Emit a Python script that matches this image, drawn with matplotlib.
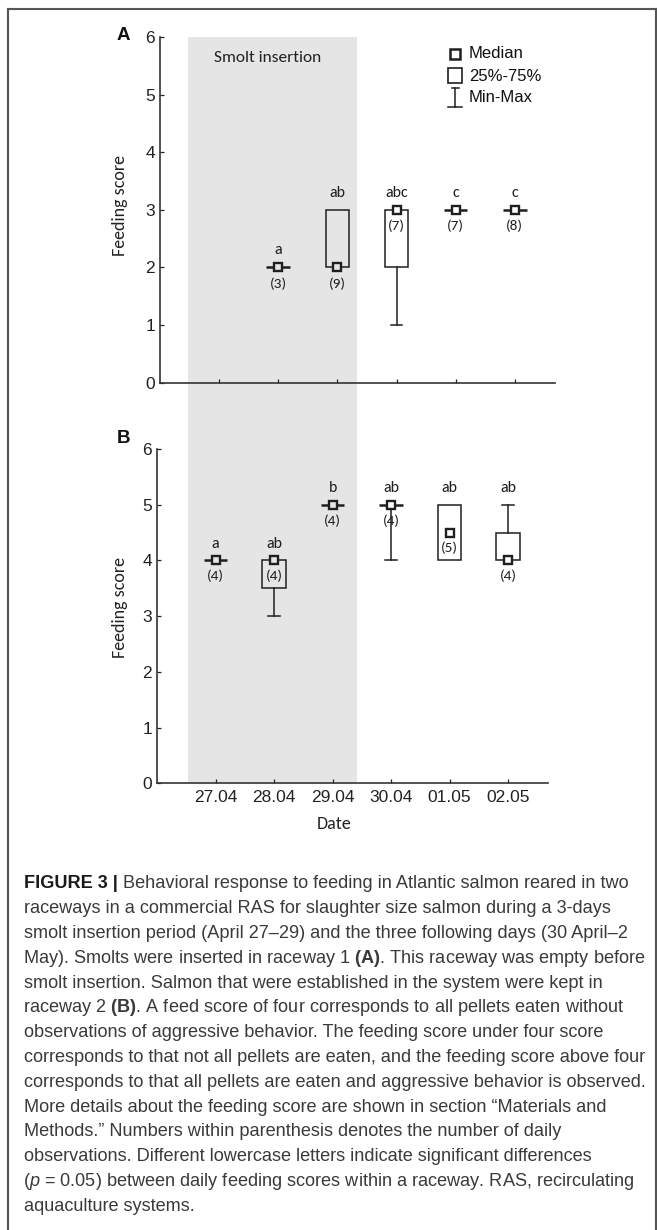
import numpy as np
import matplotlib
matplotlib.use('Agg')
import matplotlib.pyplot as plt
from matplotlib import font_manager as fm
from matplotlib.patches import Rectangle
from matplotlib.lines import Line2D

# ------------------------------------------------------------
# Fonts
# ------------------------------------------------------------
_names = {f.name for f in fm.fontManager.ttflist}


def pick(*cands):
    for c in cands:
        if c in _names:
            return c
    return 'DejaVu Sans'


ARIAL = pick('Liberation Sans', 'Arimo', 'DejaVu Sans')
CALIBRI = pick('Carlito', 'Lato', 'Open Sans')

plt.rcParams['font.family'] = [ARIAL, 'DejaVu Sans']
plt.rcParams['mathtext.fontset'] = 'custom'
plt.rcParams['mathtext.rm'] = ARIAL
plt.rcParams['mathtext.it'] = ARIAL + ':italic'
plt.rcParams['mathtext.bf'] = ARIAL + ':bold'

# ------------------------------------------------------------
# Data
# ------------------------------------------------------------
dates = ['27.04', '28.04', '29.04', '30.04', '01.05', '02.05']

# Raceway 1 (A) - no observations on 27.04
a_min = [np.nan, 2, 2, 1, 3, 3]
a_q1 = [np.nan, 2, 2, 2, 3, 3]
a_med = [np.nan, 2, 2, 3, 3, 3]
a_q3 = [np.nan, 2, 3, 3, 3, 3]
a_max = [np.nan, 2, 3, 3, 3, 3]
a_n = [None, 3, 9, 7, 7, 8]
a_letters = [None, 'a', 'ab', 'abc', 'c', 'c']

# Raceway 2 (B)
b_min = [4, 3, 5, 4, 4, 4]
b_q1 = [4, 3.5, 5, 5, 4, 4]
b_med = [4, 4, 5, 5, 4.5, 4]
b_q3 = [4, 4, 5, 5, 5, 4.5]
b_max = [4, 4, 5, 5, 5, 5]
b_n = [4, 4, 4, 4, 5, 4]
b_letters = ['a', 'ab', 'b', 'ab', 'ab', 'ab']

# smolt insertion period (x in day units)
SHADE_START, SHADE_END = 0.53, 3.41

caption = [
    "Behavioral response to feeding in Atlantic salmon reared in two",
    "raceways in a commercial RAS for slaughter size salmon during a 3-days",
    "smolt insertion period (April 27\u201329) and the three following days (30 April\u20132",
    r"May). Smolts were inserted in raceway 1 $\mathbf{(A)}$. This raceway was empty before",
    "smolt insertion. Salmon that were established in the system were kept in",
    r"raceway 2 $\mathbf{(B)}$. A feed score of four corresponds to all pellets eaten without",
    "observations of aggressive behavior. The feeding score under four score",
    "corresponds to that not all pellets are eaten, and the feeding score above four",
    "corresponds to that all pellets are eaten and aggressive behavior is observed.",
    "More details about the feeding score are shown in section \u201cMaterials and",
    "Methods.\u201d Numbers within parenthesis denotes the number of daily",
    "observations. Different lowercase letters indicate significant differences",
    r"($\mathit{p}$ = 0.05) between daily feeding scores within a raceway. RAS, recirculating",
    "aquaculture systems.",
]

# ------------------------------------------------------------
# Layout helpers (pixel boxes -> figure fractions)
# ------------------------------------------------------------
W, H = 657, 1230
fig = plt.figure(figsize=(W / 100, H / 100), dpi=100)


def px_box(left, top, right, bottom):
    return [left / W, 1 - bottom / H, (right - left) / W, (bottom - top) / H]


ax_a = fig.add_axes(px_box(160, 37, 555, 382.7))
ax_b = fig.add_axes(px_box(157, 449, 548, 783.3))
ax_a.set_zorder(2)
ax_a.patch.set_alpha(0)

LINE = '#1f1f1f'
SHADE = '#e5e5e5'
BOX_HALF = 0.2
CAP_HALF = 0.1
x = np.arange(1, len(dates) + 1)


def draw_panel(ax, mins, q1, med, q3, maxs, ns, letters):
    for i, xi in enumerate(x):
        if np.isnan(med[i]):
            continue
        if maxs[i] > q3[i]:
            ax.plot([xi, xi], [q3[i], maxs[i]], color=LINE, lw=1.1)
            ax.plot([xi - CAP_HALF, xi + CAP_HALF], [maxs[i]] * 2, color=LINE, lw=1.1)
        if mins[i] < q1[i]:
            ax.plot([xi, xi], [mins[i], q1[i]], color=LINE, lw=1.1)
            ax.plot([xi - CAP_HALF, xi + CAP_HALF], [mins[i]] * 2, color=LINE, lw=1.1)
        h = q3[i] - q1[i]
        ax.add_patch(Rectangle((xi - BOX_HALF, q1[i]), 2 * BOX_HALF, h,
                               fill=False, ec=LINE, lw=1.1 if h > 0 else 1.8,
                               zorder=3))
        inside = SHADE_START <= xi <= SHADE_END
        ax.plot(xi, med[i], marker='s', ms=6, mew=1.7, mec=LINE,
                mfc=SHADE if inside else 'white', zorder=4)
        ax.text(xi, maxs[i] + 0.3, letters[i], ha='center', va='center',
                fontsize=11.5, family=CALIBRI, color=LINE)
        ax.text(xi, med[i] - 0.28, f'({ns[i]})', ha='center', va='center',
                fontsize=11, family=CALIBRI, color=LINE)


draw_panel(ax_a, a_min, a_q1, a_med, a_q3, a_max, a_n, a_letters)
draw_panel(ax_b, b_min, b_q1, b_med, b_q3, b_max, b_n, b_letters)

for ax in (ax_a, ax_b):
    ax.set_xlim(0, 6.68)
    ax.set_ylim(0, 6)
    ax.set_xticks(x)
    ax.set_yticks(range(0, 7))
    for s in ('top', 'right'):
        ax.spines[s].set_visible(False)
    for s in ('left', 'bottom'):
        ax.spines[s].set_color('#333333')
        ax.spines[s].set_linewidth(1.2)
    ax.tick_params(direction='in', length=3, width=0.9, colors='#222222',
                   labelsize=12.5)
    ax.tick_params(axis='y', pad=3.6)
    ax.set_ylabel('Feeding score', family=CALIBRI, fontsize=13, color='#222222')

ax_a.tick_params(axis='x', labelbottom=False)
ax_b.set_xticklabels(dates)
ax_b.tick_params(axis='x', pad=4.5)
ax_b.set_xlabel('Date', family=CALIBRI, fontsize=13, color='#222222')
ax_b.xaxis.set_label_coords(0.453, -0.098)
ax_a.yaxis.set_label_coords(-0.081, 0.512)
ax_b.yaxis.set_label_coords(-0.074, 0.525)

# smolt insertion shading, spanning both panels
pa, pb = ax_a.get_position(), ax_b.get_position()
ymax_b = (pa.y1 - pb.y0) / pb.height
ax_b.axvspan(SHADE_START, SHADE_END, ymin=0.004, ymax=ymax_b, color=SHADE,
             lw=0, zorder=0, clip_on=False)
ax_a.text(0.273, 0.938, 'Smolt insertion', transform=ax_a.transAxes,
          ha='center', va='center', family=CALIBRI, fontsize=12.5, color='#222222')

# legend in panel A
ta = ax_a.transAxes
ax_a.plot(0.747, 0.951, marker='s', ms=7.5, mew=1.8, mec=LINE, mfc='white',
          transform=ta, clip_on=False)
ax_a.add_patch(Rectangle((0.747 - 0.0177, 0.888 - 0.0217), 0.0354, 0.0434,
                         transform=ta, fill=False, ec=LINE, lw=1.2, clip_on=False))
ax_a.plot([0.747, 0.747], [0.7984, 0.8516], color=LINE, lw=1.1, transform=ta)
ax_a.plot([0.738, 0.756], [0.8516, 0.8516], color=LINE, lw=1.1, transform=ta)
ax_a.plot([0.729, 0.765], [0.7984, 0.7984], color=LINE, lw=1.1, transform=ta)
for ty, lab in zip([0.953, 0.887, 0.824], ['Median', '25%-75%', 'Min-Max']):
    ax_a.text(0.782, ty, lab, transform=ta, ha='left', va='center',
              fontsize=12, color='#111111')

# panel letters
fig.text(123 / W, 1 - 35 / H, 'A', ha='center', va='center', weight='bold',
         fontsize=13.5, color='#111111')
fig.text(123 / W, 1 - 438.3 / H, 'B', ha='center', va='center', weight='bold',
         fontsize=13.5, color='#111111')

# ------------------------------------------------------------
# Caption
# ------------------------------------------------------------
renderer = fig.canvas.get_renderer()
probe = fig.text(0, 0, caption[7], fontsize=10)
cap_size = 10 * 623.5 / probe.get_window_extent(renderer).width
probe.remove()

CAP_COLOR = '#3a3a3a'
X0, Y0, DY = 24, 888.3, 24.8
head = fig.text(X0 / W, 1 - Y0 / H, 'FIGURE 3 |', weight='bold', fontsize=cap_size,
                color='#1a1a1a', va='baseline', ha='left')
hx = head.get_window_extent(renderer).x1
fig.text(hx / W, 1 - Y0 / H, ' ' + caption[0], fontsize=cap_size, color=CAP_COLOR,
         va='baseline', ha='left')
for i, line in enumerate(caption[1:], start=1):
    # mathtext lines come out with a small left inset; pull them back a pixel
    x0 = X0 - 1.0 if '$' in line else X0
    fig.text(x0 / W, 1 - (Y0 + i * DY) / H, line, fontsize=cap_size,
             color=CAP_COLOR, va='baseline', ha='left')

# outer frame
for xs, ys in [([8, 8], [9, H]), ([8, 655.5], [9, 9]), ([655.5, 655.5], [9, H])]:
    fig.add_artist(Line2D([v / W for v in xs], [1 - v / H for v in ys],
                          color='#555555', lw=1.5))

fig.savefig('out.png', dpi=100)
